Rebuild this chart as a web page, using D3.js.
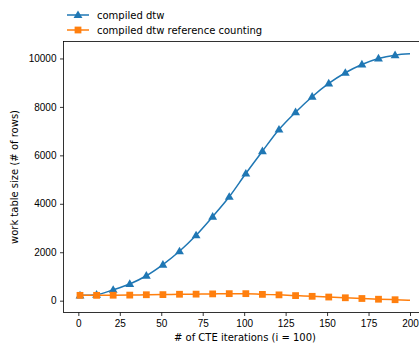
<!DOCTYPE html>
<html>
<head>
<meta charset="utf-8">
<script src="https://cdn.jsdelivr.net/npm/d3@7"></script>
<style>
  body { margin: 0; background: #fff; }
  svg { display: block; font-family: "DejaVu Sans", sans-serif; }
  .tick text { font-size: 10px; fill: #000; }
</style>
</head>
<body>
<div id="chart"></div>
<script>
// marked points (every 10th iteration) plus the final point
var iterations = [1, 11, 21, 31, 41, 51, 61, 71, 81, 91, 101, 111, 121, 131, 141, 151, 161, 171, 181, 191, 200];
var dtwValues = [220, 250, 450, 690, 1030, 1490, 2040, 2700, 3470, 4290, 5250, 6170, 7066, 7780, 8420, 8967, 9410, 9752, 10000, 10137, 10190];
var refCountValues = [220, 220, 225, 230, 245, 250, 265, 270, 280, 290, 290, 260, 240, 210, 180, 150, 120, 90, 60, 40, 20];
var xTicks = [0, 25, 50, 75, 100, 125, 150, 175, 200];
var yTicks = [0, 2000, 4000, 6000, 8000, 10000];

var series = [
  { name: "compiled dtw", values: dtwValues, color: "#1f77b4", marker: d3.symbolTriangle },
  { name: "compiled dtw reference counting", values: refCountValues, color: "#ff7f0e", marker: d3.symbolSquare }
];

var W = 419, H = 345;
var plotLeft = 63.5, plotRight = 426.5, plotTop = 41.5, plotBottom = 312.5;

var svg = d3.select("#chart").append("svg")
  .attr("width", W).attr("height", H);

var x = d3.scaleLinear().domain([-8.95, 209.95]).range([plotLeft, plotRight]);
var y = d3.scaleLinear().domain([-488, 10700]).range([plotBottom, plotTop]);

// axes
var xAxis = d3.axisBottom(x).tickValues(xTicks).tickSize(3.5).tickPadding(3.5);
var yAxis = d3.axisLeft(y).tickValues(yTicks).tickSize(3.5).tickPadding(3.5).tickFormat(d3.format("d"));

svg.append("g")
  .attr("transform", `translate(0, ${plotBottom})`)
  .call(xAxis)
  .call(g => g.select(".domain").remove())
  .call(g => g.selectAll("line").attr("stroke", "#000").attr("stroke-width", 0.8));

svg.append("g")
  .attr("transform", `translate(${plotLeft}, 0)`)
  .call(yAxis)
  .call(g => g.select(".domain").remove())
  .call(g => g.selectAll("line").attr("stroke", "#000").attr("stroke-width", 0.8));

// lines and markers
var line = d3.line()
  .x((d, i) => x(iterations[i]))
  .y(d => y(d))
  .curve(d3.curveMonotoneX);

function markerSize(m) { return m === d3.symbolSquare ? 46 : 34; }
function markerShift(m) { return m === d3.symbolTriangle ? 0.5 : 0; }

series.forEach(function(s) {
  svg.append("path")
    .attr("d", line(s.values))
    .attr("fill", "none")
    .attr("stroke", s.color)
    .attr("stroke-width", 1.5);

  svg.append("g").selectAll("path")
    .data(s.values.slice(0, s.values.length - 1)).enter()
    .append("path")
    .attr("d", d3.symbol().type(s.marker).size(markerSize(s.marker)))
    .attr("transform", (d, i) => `translate(${x(iterations[i])}, ${y(d) + markerShift(s.marker)})`)
    .attr("fill", s.color);
});

// spines (right one is off the canvas)
svg.append("rect")
  .attr("x", plotLeft).attr("y", plotTop)
  .attr("width", plotRight - plotLeft).attr("height", plotBottom - plotTop)
  .attr("fill", "none").attr("stroke", "#000").attr("stroke-width", 0.8);

// axis labels
svg.append("text")
  .attr("x", (plotLeft + plotRight) / 2).attr("y", 341)
  .attr("text-anchor", "middle")
  .attr("font-size", 10)
  .text("# of CTE iterations (i = 100)");

svg.append("text")
  .attr("transform", `translate(18, ${(plotTop + plotBottom) / 2}) rotate(-90)`)
  .attr("text-anchor", "middle")
  .attr("font-size", 10)
  .text("work table size (# of rows)");

// legend
var legend = svg.append("g");
series.forEach(function(s, i) {
  var ly = 15 + i * 15;
  legend.append("line")
    .attr("x1", 67).attr("x2", 89).attr("y1", ly).attr("y2", ly)
    .attr("stroke", s.color).attr("stroke-width", 1.5);
  legend.append("path")
    .attr("d", d3.symbol().type(s.marker).size(markerSize(s.marker)))
    .attr("transform", `translate(78, ${ly + markerShift(s.marker)})`)
    .attr("fill", s.color);
  legend.append("text")
    .attr("x", 97).attr("y", ly).attr("dy", "0.35em")
    .attr("font-size", 10)
    .text(s.name);
});
</script>
</body>
</html>
